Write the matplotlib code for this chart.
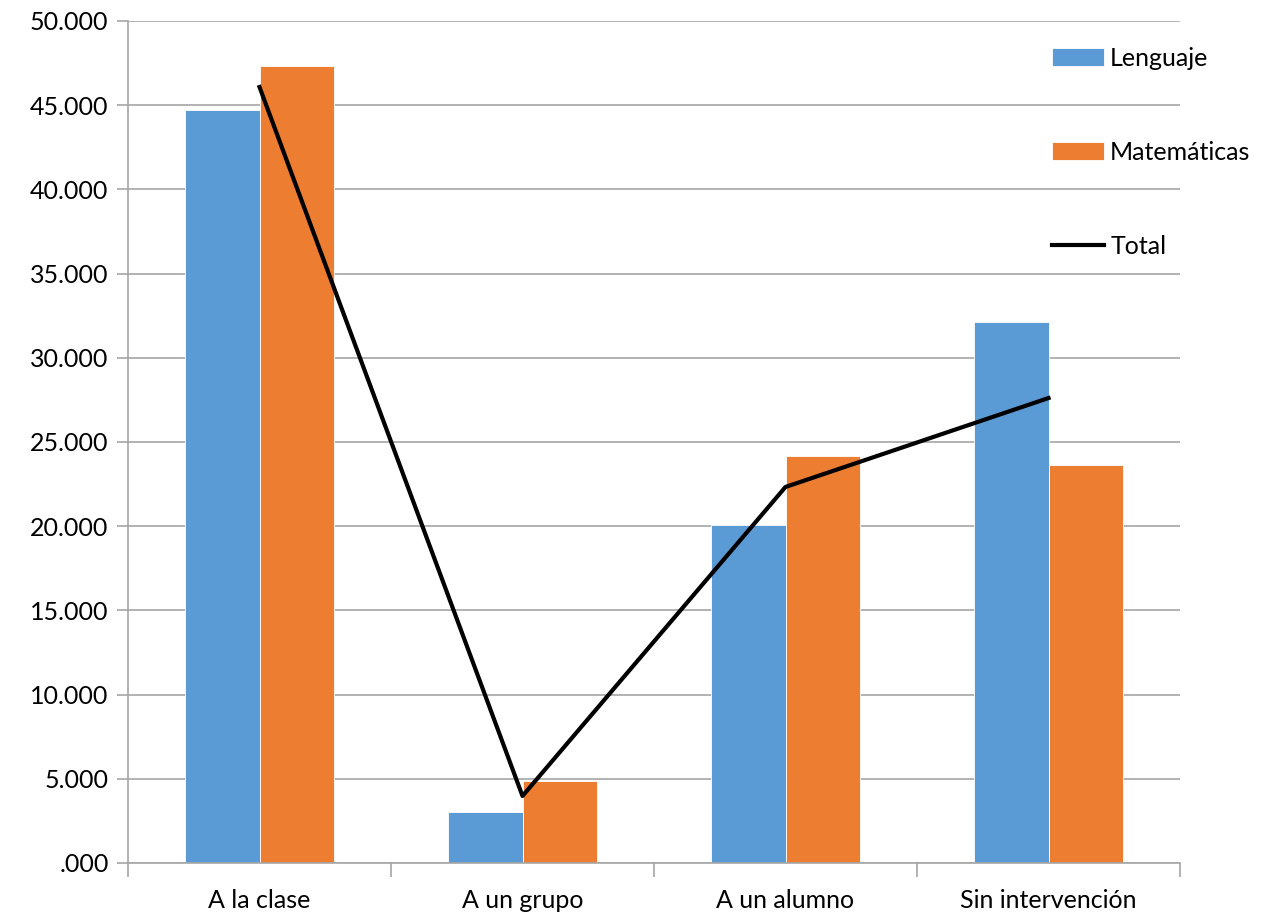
import numpy as np
import matplotlib
matplotlib.use('Agg')
import matplotlib.pyplot as plt

categorias = ['A la clase', 'A un grupo', 'A un alumno', 'Sin intervención']
lenguaje = [44.71, 3.03, 20.07, 32.13]
matematicas = [47.33, 4.87, 24.17, 23.63]
total = [46.08, 3.98, 22.33, 27.61]
yticks = [0, 5, 10, 15, 20, 25, 30, 35, 40, 45, 50]
ytick_labels = ['.000', '5.000', '10.000', '15.000', '20.000', '25.000',
                '30.000', '35.000', '40.000', '45.000', '50.000']

azul = '#5B9BD5'
naranja = '#ED7D31'
gris = '#A6A6A6'

plt.rcParams['font.family'] = ['Lato', 'DejaVu Sans']
fs = 18

fig = plt.figure(figsize=(12.73, 9.19), dpi=100)
ax = fig.add_axes([128/1273, 56/919, (1180-128)/1273, (863-21)/919])

x = np.arange(len(categorias))
w = 0.285
b1 = ax.bar(x - w/2, lenguaje, w, color=azul, edgecolor='white', linewidth=0.6,
            label='Lenguaje', zorder=2)
b2 = ax.bar(x + w/2, matematicas, w, color=naranja, edgecolor='white', linewidth=0.6,
            label='Matemáticas', zorder=2)
l1, = ax.plot(x, total, color='black', linewidth=3, label='Total', zorder=3)

ax.set_xlim(-0.5, len(categorias) - 0.5)
ax.set_ylim(0, 50)
ax.set_yticks(yticks)
ax.set_yticklabels(ytick_labels)
ax.yaxis.grid(True, color=gris, linewidth=1.2, zorder=0)
ax.set_axisbelow(True)

# ticks on the category boundaries, labels at the centres
ax.set_xticks(np.arange(-0.5, len(categorias), 1.0))
ax.set_xticklabels([])
ax.set_xticks(x, minor=True)
ax.set_xticklabels(categorias, minor=True)
ax.tick_params(axis='x', which='minor', length=0, pad=19, labelsize=fs)
ax.tick_params(axis='x', which='major', length=10, width=1.2, color=gris)
ax.tick_params(axis='y', length=8, width=1.2, color=gris, labelsize=fs, pad=6)

for s in ['top', 'right']:
    ax.spines[s].set_visible(False)
for s in ['left', 'bottom']:
    ax.spines[s].set_color(gris)
    ax.spines[s].set_linewidth(1.2)

fig.legend([b1, b2, l1], ['Lenguaje', 'Matemáticas', 'Total'],
           loc='upper left', bbox_to_anchor=(1029/1273, 1 - 24/919),
           frameon=False, fontsize=fs, handlelength=2.1, handletextpad=0.25,
           labelspacing=2.85)

plt.savefig('out.png', dpi=100)
